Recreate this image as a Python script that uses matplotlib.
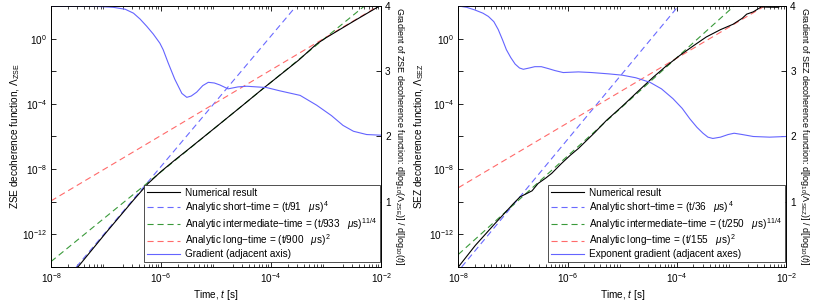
import matplotlib
matplotlib.use("Agg")
import matplotlib.pyplot as plt
import numpy as np
from matplotlib.lines import Line2D
from matplotlib.ticker import FixedLocator, FuncFormatter, LogLocator, NullFormatter

plt.rcParams["font.family"] = ["Liberation Sans", "DejaVu Sans"]
plt.rcParams["mathtext.fontset"] = "custom"
plt.rcParams["mathtext.rm"] = "Liberation Sans"
plt.rcParams["mathtext.it"] = "Liberation Sans:italic"
plt.rcParams["axes.unicode_minus"] = True

# ---- data (log10 of time in s, log10 of decoherence function / gradient) ----
zse_num_logt = [-7.51, -7.0, -6.5, -6.24, -6.0, -5.75, -5.5, -5.0, -4.5, -4.14, -3.5, -3.17, -3.0, -2.5, -2.0]
zse_num_logL = [-14.0, -11.9, -9.9, -8.9, -8.15, -7.45, -6.78, -5.42, -4.05, -3.05, -1.33, -0.33, 0.05, 1.06, 2.05]

zse_short_logt = [-7.54, -3.54]
zse_short_logL = [-14.0, 2.0]
zse_inter_logt = [-8.0, -2.30]
zse_inter_logL = [-13.67, 2.0]
zse_long_logt = [-8.0, -2.0]
zse_long_logL = [-9.95, 2.09]

zse_grad_logt = [-8.0, -7.3, -6.87, -6.65, -6.5, -6.38, -6.26, -6.14, -6.02, -5.96, -5.87, -5.75,
                 -5.62, -5.53, -5.45, -5.35, -5.24, -5.14, -5.03, -4.93, -4.78, -4.6, -4.44, -4.08,
                 -3.84, -3.47, -3.17, -2.9, -2.69, -2.5, -2.26, -2.0]
zse_grad = [4.0, 4.0, 3.98, 3.95, 3.89, 3.80, 3.69, 3.57, 3.43, 3.33, 3.13, 2.88,
            2.66, 2.60, 2.62, 2.68, 2.78, 2.83, 2.82, 2.79, 2.73, 2.76, 2.77, 2.75,
            2.70, 2.63, 2.48, 2.32, 2.17, 2.08, 2.03, 2.02]

sez_num_logt = [-8.0, -7.69, -7.33, -6.99, -6.87, -6.75, -6.65, -6.54, -6.4, -6.29, -6.11, -5.95,
                -5.8, -5.5, -5.29, -5.0, -4.7, -4.43, -4.2, -3.94, -3.7, -3.46, -3.2, -2.97,
                -2.8, -2.72, -2.6, -2.45, -2.35, -2.15, -2.05, -2.0]
sez_num_logL = [-14.0, -12.68, -11.34, -10.11, -9.70, -9.50, -9.33, -8.88, -8.55, -8.26, -7.65, -7.15,
                -6.73, -5.75, -5.02, -4.15, -3.2, -2.36, -1.70, -1.02, -0.45, 0.10, 0.55, 0.88,
                1.25, 1.50, 1.64, 1.95, 1.93, 1.92, 2.05, 2.1]

sez_short_logt = [-7.94, -3.97]
sez_short_logL = [-14.0, 2.0]
sez_inter_logt = [-8.0, -2.95]
sez_inter_logL = [-13.23, 2.0]
sez_long_logt = [-8.0, -2.39]
sez_long_logL = [-9.14, 2.0]

sez_grad_logt = [-8.0, -7.85, -7.7, -7.55, -7.45, -7.35, -7.27, -7.19, -7.12, -7.04, -6.96, -6.88,
                 -6.81, -6.7, -6.6, -6.48, -6.35, -6.23, -6.08, -5.8, -5.56, -5.25, -5.0, -4.75,
                 -4.49, -4.28, -4.07, -3.9, -3.76, -3.63, -3.52, -3.43, -3.34, -3.2, -3.06, -2.95,
                 -2.8, -2.6, -2.3, -2.0]
sez_grad = [4.0, 3.98, 3.94, 3.89, 3.84, 3.76, 3.64, 3.48, 3.33, 3.21, 3.11, 3.05,
            3.03, 3.05, 3.07, 3.07, 3.04, 3.01, 2.98, 2.99, 2.98, 2.96, 2.94, 2.90,
            2.83, 2.73, 2.58, 2.43, 2.27, 2.14, 2.05, 1.99, 1.97, 1.99, 2.03, 2.05,
            2.03, 2.00, 1.99, 2.0]

panels = [
    dict(name="ZSE", num=(zse_num_logt, zse_num_logL), short=(zse_short_logt, zse_short_logL),
         inter=(zse_inter_logt, zse_inter_logL), long=(zse_long_logt, zse_long_logL),
         grad=(zse_grad_logt, zse_grad), tau=("91", "933", "900"),
         grad_label="Gradient (adjacent axis)"),
    dict(name="SEZ", num=(sez_num_logt, sez_num_logL), short=(sez_short_logt, sez_short_logL),
         inter=(sez_inter_logt, sez_inter_logL), long=(sez_long_logt, sez_long_logL),
         grad=(sez_grad_logt, sez_grad), tau=("36", "250", "155"),
         grad_label="Exponent gradient (adjacent axes)"),
]

C_BLUE = "#6a6aff"
C_GREEN = "#3a9a3a"
C_RED = "#ff6a6a"
C_GRAD = "#6464ff"
FS = 7.2
DASH = (0, (5.5, 3.5))

fig = plt.figure(figsize=(8.30, 3.04), dpi=100)
rects = [[0.0614, 0.1217, 0.3976, 0.8586], [0.5522, 0.1217, 0.3948, 0.8586]]
ylabel_x = [-0.088, -0.098]


def ylab(v, pos):
    e = int(round(np.log10(v)))
    return r"$10^{%d}$" % e if e % 4 == 0 and e <= 0 else ""


for rect, lx, p in zip(rects, ylabel_x, panels):
    ax = fig.add_axes(rect)
    ax2 = ax.twinx()

    def pl(a, d, **kw):
        return a.plot(10.0 ** np.array(d[0]), 10.0 ** np.array(d[1]), **kw)[0]

    pl(ax, p["short"], color=C_BLUE, lw=0.8, ls=DASH)
    pl(ax, p["inter"], color=C_GREEN, lw=0.8, ls=DASH)
    pl(ax, p["long"], color=C_RED, lw=0.8, ls=DASH)
    h_num = pl(ax, p["num"], color="black", lw=0.8, zorder=3)
    h_grad = ax2.plot(10.0 ** np.array(p["grad"][0]), p["grad"][1], color=C_GRAD, lw=0.8)[0]

    ax.set_xscale("log")
    ax.set_yscale("log")
    ax.set_xlim(1e-8, 1e-2)
    ax.set_ylim(1e-14, 1e2)
    ax2.set_ylim(0, 4)
    ax2.set_yticks([1, 2, 3, 4])

    ax.xaxis.set_major_locator(FixedLocator([1e-8, 1e-6, 1e-4, 1e-2]))
    ax.xaxis.set_minor_locator(LogLocator(base=10, subs=np.arange(2, 10), numticks=20))
    ax.xaxis.set_minor_formatter(NullFormatter())
    ax.yaxis.set_major_locator(FixedLocator([10.0 ** e for e in range(-14, 3, 2)]))
    ax.yaxis.set_minor_locator(FixedLocator([]))
    ax.yaxis.set_major_formatter(FuncFormatter(ylab))

    ax.tick_params(which="both", direction="in", top=True, labelsize=FS, pad=3)
    ax.tick_params(which="major", length=3.5, width=0.6)
    ax.tick_params(which="minor", length=2, width=0.5)
    ax2.tick_params(direction="in", length=3.5, width=0.6, labelsize=FS, pad=3)
    for a in (ax, ax2):
        for s in a.spines.values():
            s.set_linewidth(0.6)

    ax.set_xlabel(r"Time, $t$ [s]", fontsize=FS, labelpad=2)
    ax.set_ylabel(r"%s decoherence function, $\Lambda_{\mathrm{%s}}$" % (p["name"], p["name"]),
                  fontsize=FS)
    ax.yaxis.set_label_coords(lx, 0.5)
    ax2.set_ylabel(r"Gradient of %s decoherence function: d[log$_{10}$($\Lambda_{\mathrm{%s}}$)] / d[log$_{10}$($t$)]"
                   % (p["name"], p["name"]), fontsize=6.45, rotation=270, labelpad=11)

    t1, t2, t3 = p["tau"]
    labels = [
        "Numerical result",
        r"Analytic short$-$time = (t/%s   $\mu$s)$^{\,4}$" % t1,
        r"Analytic intermediate$-$time = (t/%s   $\mu$s)$^{\,11/4}$" % t2,
        r"Analytic long$-$time = (t/%s   $\mu$s)$^{\,2}$" % t3,
        p["grad_label"],
    ]
    handles = [h_num,
               Line2D([], [], color=C_BLUE, lw=0.8, ls=DASH),
               Line2D([], [], color=C_GREEN, lw=0.8, ls=DASH),
               Line2D([], [], color=C_RED, lw=0.8, ls=DASH),
               h_grad]
    leg = ax2.legend(handles, labels, loc="lower right", bbox_to_anchor=(0.998, 0.018),
                     borderaxespad=0, fontsize=FS, frameon=True, fancybox=False,
                     edgecolor="#333333", framealpha=1, handlelength=3.3,
                     handletextpad=0.5, labelspacing=0.1, borderpad=0.3)
    leg.get_frame().set_linewidth(0.6)

fig.savefig("out.png", dpi=100)
